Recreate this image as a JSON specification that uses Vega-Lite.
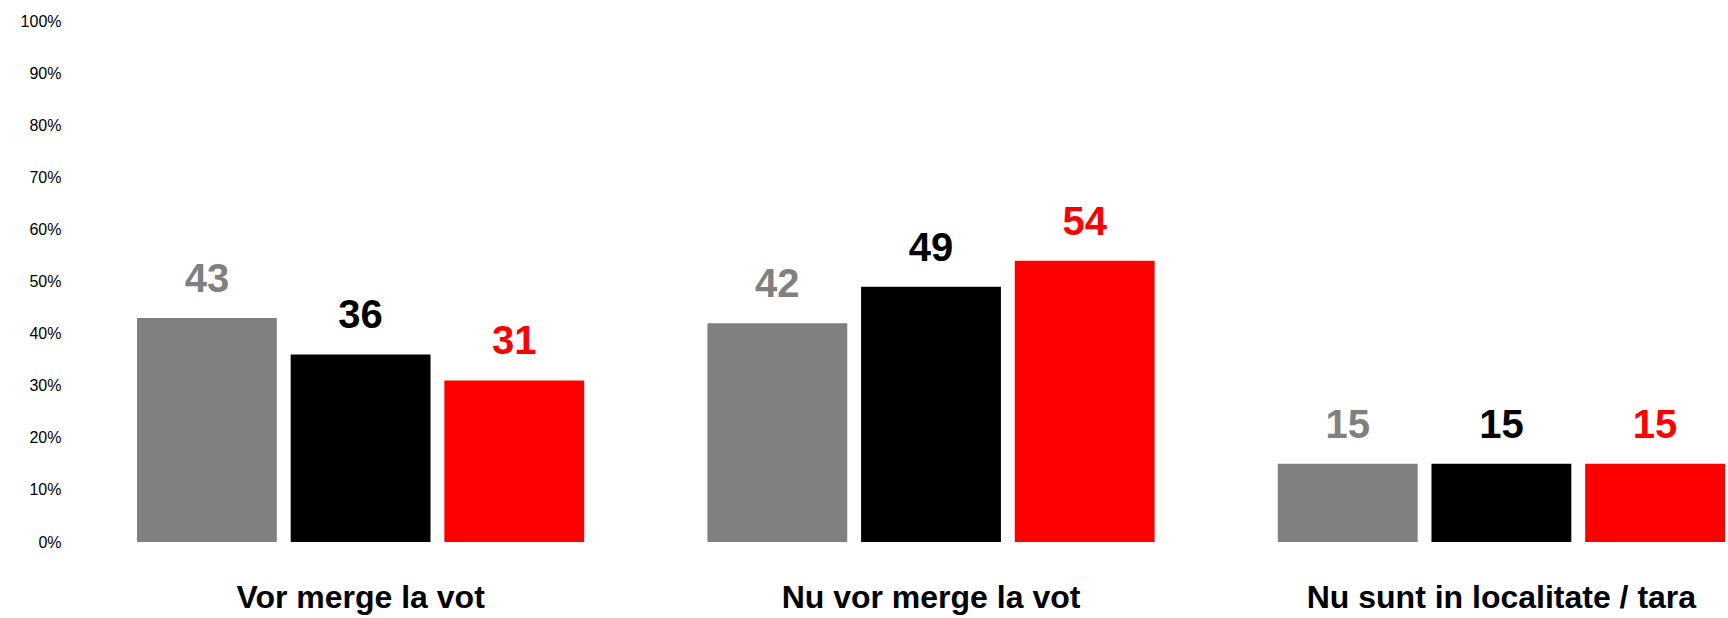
{
  "$schema": "https://vega.github.io/schema/vega-lite/v6.json",
  "width": 1588,
  "height": 521,
  "autosize": {"type": "none"},
  "padding": {"left": 137, "top": 21, "right": 3, "bottom": 76},
  "config": {"view": {"stroke": null}, "font": "Liberation Sans"},
  "data": {
    "values": [
      {"categorie": "Vor merge la vot", "serie": "S1", "procent": 43},
      {"categorie": "Vor merge la vot", "serie": "S2", "procent": 36},
      {"categorie": "Vor merge la vot", "serie": "S3", "procent": 31},
      {"categorie": "Nu vor merge la vot", "serie": "S1", "procent": 42},
      {"categorie": "Nu vor merge la vot", "serie": "S2", "procent": 49},
      {"categorie": "Nu vor merge la vot", "serie": "S3", "procent": 54},
      {"categorie": "Nu sunt in localitate / tara", "serie": "S1", "procent": 15},
      {"categorie": "Nu sunt in localitate / tara", "serie": "S2", "procent": 15},
      {"categorie": "Nu sunt in localitate / tara", "serie": "S3", "procent": 15}
    ]
  },
  "encoding": {
    "x": {
      "field": "categorie",
      "type": "nominal",
      "sort": ["Vor merge la vot", "Nu vor merge la vot", "Nu sunt in localitate / tara"],
      "scale": {"paddingInner": 0.216, "paddingOuter": 0},
      "axis": {
        "title": null,
        "labelAngle": 0,
        "domain": false,
        "ticks": false,
        "labelFontSize": 32,
        "labelFontWeight": "bold",
        "labelColor": "#000000",
        "labelPadding": 40,
        "labelLimit": 0
      }
    },
    "xOffset": {
      "field": "serie",
      "type": "nominal",
      "sort": ["S1", "S2", "S3"],
      "scale": {"paddingInner": 0.09, "paddingOuter": 0}
    },
    "y": {
      "field": "procent",
      "type": "quantitative",
      "scale": {"domain": [0, 100]},
      "axis": {
        "title": null,
        "grid": false,
        "domain": false,
        "ticks": false,
        "values": [0, 10, 20, 30, 40, 50, 60, 70, 80, 90, 100],
        "labelExpr": "datum.value + '%'",
        "labelFontSize": 16,
        "labelColor": "#000000",
        "offset": 70,
        "labelPadding": 6
      }
    },
    "color": {
      "field": "serie",
      "type": "nominal",
      "scale": {"domain": ["S1", "S2", "S3"], "range": ["#808080", "#000000", "#ff0000"]},
      "legend": null
    }
  },
  "layer": [
    {"mark": {"type": "bar"}},
    {
      "mark": {"type": "text", "dy": -26, "baseline": "alphabetic", "fontSize": 40, "fontWeight": "bold"},
      "encoding": {"text": {"field": "procent", "type": "quantitative"}}
    }
  ]
}
